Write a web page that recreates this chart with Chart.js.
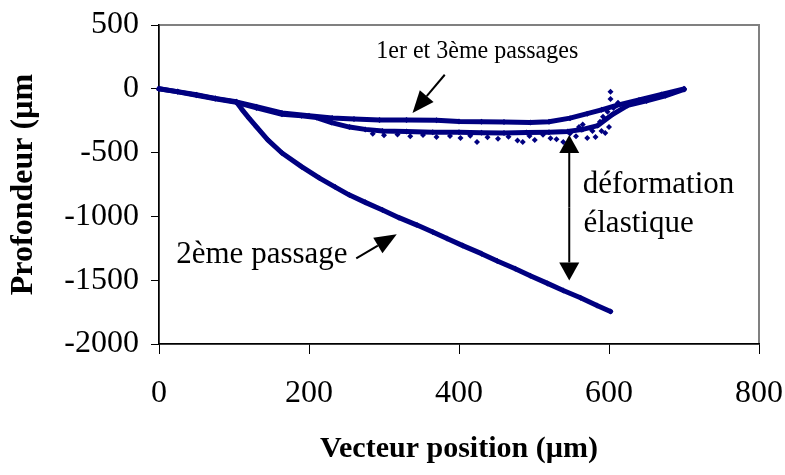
<!DOCTYPE html>
<html>
<head>
<meta charset="utf-8">
<script src="https://cdn.jsdelivr.net/npm/chart.js@4.4.1/dist/chart.umd.min.js"></script>
<style>
  html, body { margin: 0; padding: 0; background: #fff; }
  #wrap { width: 785px; height: 475px; }
</style>
</head>
<body>
<div id="wrap"><canvas id="chart_profil" width="785" height="475"></canvas></div>
<script>
// profil de rayure : 3 passages

// 1er passage
var x1 = [0, 25, 50, 75, 103, 130, 164, 200, 231, 260, 294, 330, 370, 400, 430, 460, 495, 520, 548, 571, 590, 610, 640, 670, 700];
var y1 = [0, -22, -47, -75, -102, -140, -189, -212, -228, -236, -244, -244, -246, -256, -259, -260, -265, -258, -230, -195, -165, -130, -88, -45, 0];

// 2eme passage
var x2 = [103, 111, 120, 130, 145, 164, 190, 214, 235, 254, 275, 298, 320, 344, 365, 384, 405, 430, 451, 475, 495, 518, 539, 562, 584, 602];
var y2 = [-102, -165, -230, -299, -400, -503, -610, -700, -770, -833, -890, -950, -1010, -1068, -1122, -1174, -1229, -1292, -1350, -1410, -1465, -1525, -1581, -1638, -1698, -1745];

// 3eme passage
var x3 = [0, 25, 50, 75, 103, 130, 164, 190, 210, 230, 254, 275, 298, 330, 365, 400, 430, 460, 490, 520, 545, 565, 585, 605, 625, 650, 675, 700];
var y3 = [0, -24, -50, -78, -106, -150, -200, -212, -225, -265, -300, -318, -330, -334, -340, -340, -344, -346, -343, -340, -335, -318, -288, -200, -130, -95, -55, -5];

// points disperses du 3eme passage
var x3s = [285, 300, 318, 335, 352, 370, 388, 402, 415, 424, 438, 452, 466, 478, 485, 494, 501, 512, 522, 530, 539, 548, 556, 560, 563, 565, 571, 575, 578, 582, 588, 590, 592, 595, 598, 600, 602, 602, 606, 612];
var y3s = [-352, -365, -358, -372, -362, -378, -370, -385, -368, -417, -380, -392, -375, -405, -417, -370, -401, -360, -388, -395, -417, -350, -372, -300, -320, -280, -385, -310, -330, -377, -259, -330, -220, -346, -180, -300, -79, -24, -150, -110];

// axes
var xTicks = [0, 200, 400, 600, 800];
var yTicks = [500, 0, -500, -1000, -1500, -2000];

var navy = '#000080';
var serif = "'Liberation Serif', 'Times New Roman', serif";

function toPoints(xs, ys) {
    return xs.map(function (x, i) { return { x: x, y: ys[i] }; });
}

function lineSet(xs, ys) {
    return {
        data: toPoints(xs, ys),
        showLine: true,
        borderColor: navy,
        borderWidth: 5,
        backgroundColor: navy,
        pointRadius: 3,
        pointStyle: 'rectRot',
        pointBorderWidth: 0,
        borderJoinStyle: 'round',
        borderCapStyle: 'round',
        clip: false
    };
}

// fleches et textes, places en coordonnees des donnees
function arrow(ctx, xa, ya, xb, yb, len, half) {
    var a = Math.atan2(yb - ya, xb - xa);
    var bx = xb - len * Math.cos(a), by = yb - len * Math.sin(a);
    ctx.beginPath();
    ctx.moveTo(xa, ya);
    ctx.lineTo(bx, by);
    ctx.stroke();
    ctx.beginPath();
    ctx.moveTo(xb, yb);
    ctx.lineTo(bx + half * Math.sin(a), by - half * Math.cos(a));
    ctx.lineTo(bx - half * Math.sin(a), by + half * Math.cos(a));
    ctx.closePath();
    ctx.fill();
}

var notes = {
    id: 'notes',
    beforeDraw: function (chart) {
        var c = chart.ctx, a = chart.chartArea;
        c.save();
        c.strokeStyle = '#808080';
        c.lineWidth = 2;
        c.strokeRect(a.left, a.top, a.right - a.left, a.bottom - a.top);
        c.restore();
    },
    afterDatasetsDraw: function (chart) {
        var c = chart.ctx;
        var sx = chart.scales.x, sy = chart.scales.y;
        function px(v) { return sx.getPixelForValue(v); }
        function py(v) { return sy.getPixelForValue(v); }
        c.save();
        c.fillStyle = '#000';
        c.strokeStyle = '#000';
        c.lineWidth = 2;
        c.textBaseline = 'alphabetic';

        c.font = '26px ' + serif;
        c.textAlign = 'right';
        c.fillText('1er et 3ème passages', px(559), py(244), 202);

        c.font = '31px ' + serif;
        c.textAlign = 'left';
        c.fillText('2ème passage', px(23), py(-1368));
        c.fillText('déformation', px(565), py(-818));
        c.fillText('élastique', px(566), py(-1124));

        arrow(c, px(381), py(110), px(338), py(-189), 22, 9);
        arrow(c, px(263), py(-1329), px(317), py(-1140), 22, 9);
        arrow(c, px(547), py(-930), px(547), py(-362), 18, 10);
        arrow(c, px(547), py(-930), px(547), py(-1502), 18, 10);
        c.restore();
    }
};

var ctxProfil = document.getElementById('chart_profil').getContext('2d');
var chartProfil = new Chart(ctxProfil, {
    type: 'scatter',
    data: {
        datasets: [
            lineSet(x2, y2),
            lineSet(x1, y1),
            lineSet(x3, y3),
            {
                data: toPoints(x3s, y3s),
                showLine: false,
                backgroundColor: navy,
                pointRadius: 3,
                pointStyle: 'rectRot',
                pointBorderWidth: 0,
                clip: false
            }
        ]
    },
    options: {
        responsive: false,
        devicePixelRatio: 1,
        animation: false,
        layout: { padding: { top: 25, right: 26, left: 0, bottom: 0 } },
        plugins: {
            legend: { display: false },
            tooltip: { enabled: false }
        },
        scales: {
            x: {
                type: 'linear',
                min: 0,
                max: 800,
                afterBuildTicks: function (s) { s.ticks = xTicks.map(function (v) { return { value: v }; }); },
                afterFit: function (s) { s.height = 131; s.paddingLeft = 0; s.paddingRight = 0; },
                grid: { drawOnChartArea: false, drawTicks: true, tickLength: 10, color: '#000', tickWidth: 1 },
                border: { display: true, color: '#000', width: 1.5 },
                ticks: {
                    color: '#000', padding: 20, maxRotation: 0,
                    font: { family: serif, size: 32 },
                    callback: function (v) { return String(v); }
                },
                title: {
                    display: true,
                    text: 'Vecteur position (µm)',
                    color: '#000',
                    padding: { top: 0, bottom: 8 },
                    font: { family: serif, size: 30, weight: 'bold' }
                }
            },
            y: {
                type: 'linear',
                min: -2000,
                max: 500,
                afterBuildTicks: function (s) { s.ticks = yTicks.map(function (v) { return { value: v }; }); },
                afterFit: function (s) { s.width = 159; s.paddingTop = 0; s.paddingBottom = 0; },
                grid: { drawOnChartArea: false, drawTicks: true, tickLength: 8, color: '#000', tickWidth: 1 },
                border: { display: true, color: '#000', width: 1.5 },
                ticks: {
                    color: '#000', padding: 12,
                    font: { family: serif, size: 32 },
                    callback: function (v) { return String(v); }
                },
                title: {
                    display: true,
                    text: 'Profondeur (µm',
                    color: '#000',
                    padding: { top: 5, bottom: 0 },
                    font: { family: serif, size: 32, weight: 'bold' }
                }
            }
        }
    },
    plugins: [notes]
});
</script>
</body>
</html>
